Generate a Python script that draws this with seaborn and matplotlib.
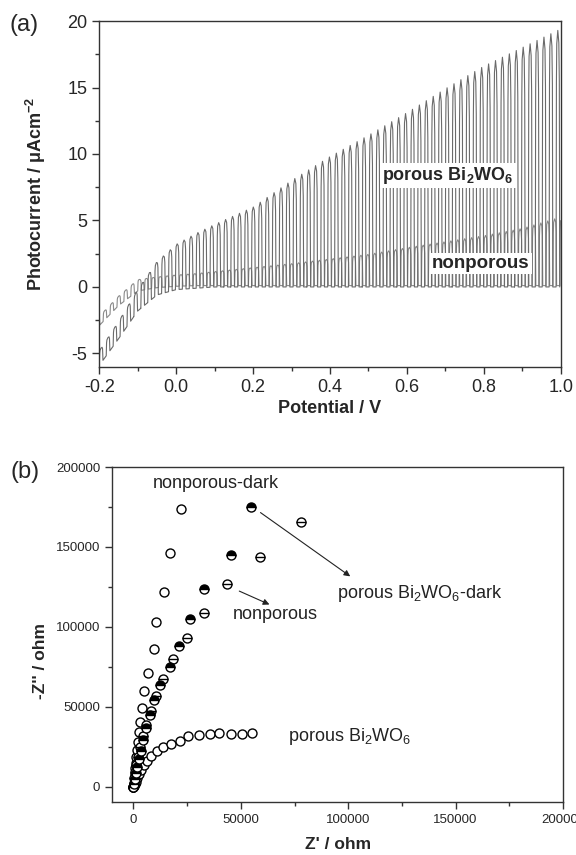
import numpy as np
import pandas as pd
import matplotlib
matplotlib.use("Agg")
import matplotlib.pyplot as plt
import seaborn as sns

# -------------------------
# (a) chopped-light photocurrent, envelopes
# -------------------------
pot_grid = [-0.2, -0.15, -0.1, -0.05, 0.0, 0.05, 0.1, 0.2, 0.3, 0.4, 0.5, 0.6, 0.7, 0.8, 0.9, 1.0]
porous_light = [-4.8, -2.6, -0.2, 1.9, 3.2, 4.0, 4.7, 6.0, 8.0, 9.8, 11.4, 13.1, 14.9, 16.6, 18.0, 19.4]
porous_dark = [-5.9, -3.9, -1.8, -0.6, -0.2, -0.1, 0.0, 0.0, 0.0, 0.0, 0.0, 0.0, 0.0, 0.0, 0.0, 0.0]
nonporous_light = [-2.2, -0.7, 0.55, 0.75, 0.9, 1.0, 1.15, 1.45, 1.75, 2.1, 2.45, 2.95, 3.4, 3.85, 4.4, 5.25]
nonporous_dark = [-2.9, -1.4, -0.3, -0.05, 0.05, 0.1, 0.1, 0.1, 0.1, 0.1, 0.1, 0.1, 0.1, 0.1, 0.1, 0.1]
chop_period = 0.018  # V per light on/off cycle
pulse_phase = [0.0, 0.05, 0.1, 0.25, 0.4, 0.47, 0.53, 1.0]
pulse_level = [0.0, 0.8, 0.95, 1.0, 0.95, 0.8, 0.0, 0.0]

# -------------------------
# (b) Nyquist plots
# -------------------------
np_dark_x = [0, 150, 300, 500, 700, 900, 1100, 1400, 1700, 2170, 2480, 2940, 4040, 4970, 7000, 9490, 10280, 14160, 16960, 22100]
np_dark_y = [0, 1200, 2500, 5200, 8300, 11500, 14600, 18800, 23100, 28330, 34580, 40830, 49170, 60000, 71460, 86060, 102800, 122100, 146000, 173750]

porous_x = [0, 200, 500, 1100, 1870, 2700, 3740, 4970, 6540, 8400, 11030, 13830, 17300, 21500, 25370, 30660, 35660, 40000, 45330, 50460, 55140]
porous_y = [0, 800, 1700, 3300, 5420, 8125, 10600, 13330, 15830, 18960, 22080, 24580, 26670, 28750, 31460, 32300, 33150, 33560, 33300, 32900, 33560]

np_light_x = [0, 200, 470, 900, 1400, 2180, 3270, 4670, 6070, 7940, 10420, 13850, 18230, 24770, 32850, 43460, 58700, 77900]
np_light_y = [0, 1500, 5200, 9400, 13500, 18750, 25200, 31460, 38750, 47500, 57080, 67500, 79790, 93330, 108960, 126900, 143900, 165800]

pd_dark_x = [0, 250, 600, 1100, 1700, 2500, 3300, 4400, 5750, 7620, 9640, 12290, 16960, 21030, 26300, 32850, 45330, 54670]
pd_dark_y = [0, 2000, 5000, 8500, 12500, 17500, 22500, 29000, 36700, 45000, 54375, 63750, 75200, 88125, 105000, 123750, 145000, 175200]

sns.set_style("ticks")
plt.rcParams["font.family"] = ["Liberation Sans", "DejaVu Sans"]
plt.rcParams["axes.unicode_minus"] = False
plt.rcParams["mathtext.fontset"] = "custom"
plt.rcParams["mathtext.rm"] = "Liberation Sans"
plt.rcParams["mathtext.bf"] = "Liberation Sans:bold"
plt.rcParams["mathtext.default"] = "regular"


def chopped(light, dark, phase0):
    # build the light on/off trace between the dark and light envelopes
    starts = np.arange(-0.2 - phase0 * chop_period, 1.0, chop_period)
    v = (starts[:, None] + np.array(pulse_phase)[None, :] * chop_period).ravel()
    lvl = np.tile(pulse_level, len(starts))
    keep = (v >= -0.2) & (v <= 1.0)
    v, lvl = v[keep], lvl[keep]
    lo = np.interp(v, pot_grid, dark)
    hi = np.interp(v, pot_grid, light)
    return pd.DataFrame({"V": v, "I": lo + lvl * (hi - lo)})


df_porous = chopped(porous_light, porous_dark, 0.0)
df_nonporous = chopped(nonporous_light, nonporous_dark, 0.45)

fig = plt.figure(figsize=(5.76, 8.55), dpi=100)
ax1 = fig.add_axes([0.1724, 0.5711, 0.801, 0.4043])
ax2 = fig.add_axes([0.1944, 0.0620, 0.783, 0.3918])

spine_c = "#333333"
for ax in (ax1, ax2):
    for s in ax.spines.values():
        s.set_color(spine_c)
        s.set_linewidth(1.0)
        s.set_visible(True)
    ax.tick_params(which="both", direction="out", color=spine_c, width=1.0,
                   top=False, right=False)
    ax.tick_params(which="major", length=5)
    ax.tick_params(which="minor", length=3)

sns.lineplot(data=df_nonporous, x="V", y="I", ax=ax1, sort=False, estimator=None,
             color="#8a8a8a", lw=0.8)
sns.lineplot(data=df_porous, x="V", y="I", ax=ax1, sort=False, estimator=None,
             color="#6a6a6a", lw=0.8)
ax1.set_xlim(-0.2, 1.0)
ax1.set_ylim(-6, 20)
ax1.set_xticks(np.arange(-0.2, 1.01, 0.2))
ax1.set_xticklabels([f"{t:.1f}" for t in np.arange(-0.2, 1.01, 0.2)])
ax1.set_xticks(np.arange(-0.1, 1.0, 0.2), minor=True)
ax1.set_yticks([-5, 0, 5, 10, 15, 20])
ax1.set_yticks([-2.5, 2.5, 7.5, 12.5, 17.5], minor=True)
ax1.tick_params(labelsize=13)
ax1.set_xlabel("Potential / V", fontsize=13, fontweight="bold")
ax1.set_ylabel(r"Photocurrent / μAcm$^{\mathbf{-2}}$", fontsize=13, fontweight="bold")
ax1.xaxis.set_label_coords(0.5, -0.095)
ax1.yaxis.set_label_coords(-0.112, 0.5)
ax1.text(0.536, 8.4, r"porous Bi$_\mathbf{2}$WO$_\mathbf{6}$", fontsize=13, fontweight="bold",
         va="center", ha="left",
         bbox=dict(facecolor="white", edgecolor="none", pad=1.5))
ax1.text(0.665, 1.75, "nonporous", fontsize=13.5, fontweight="bold", va="center", ha="left",
         bbox=dict(facecolor="white", edgecolor="none", pad=1.5))

# Nyquist
mk = dict(s=42, facecolor="white", edgecolor="black", linewidth=1.0, marker="o", zorder=3)
sns.scatterplot(x=np_dark_x, y=np_dark_y, ax=ax2, **mk)
sns.scatterplot(x=porous_x, y=porous_y, ax=ax2, **mk)
sns.scatterplot(x=np_light_x, y=np_light_y, ax=ax2, **mk)
ax2.plot(np_light_x, np_light_y, ls="none", marker="_", ms=6.5, mew=1.0, color="black", zorder=4)
ax2.plot(pd_dark_x, pd_dark_y, ls="none", marker="o", ms=6.5, mew=1.0, fillstyle="top",
         markerfacecolor="black", markerfacecoloralt="white", markeredgecolor="black", zorder=4)

ax2.set_xlim(-10000, 200000)
ax2.set_ylim(-9500, 200000)
ax2.set_xticks([0, 50000, 100000, 150000, 200000])
ax2.set_xticks([25000, 75000, 125000, 175000], minor=True)
ax2.set_yticks([0, 50000, 100000, 150000, 200000])
ax2.set_yticks([25000, 75000, 125000, 175000], minor=True)
ax2.tick_params(labelsize=9.5)
ax2.set_xlabel("Z' / ohm", fontsize=12.5, fontweight="bold")
ax2.set_ylabel("-Z'' / ohm", fontsize=12.5, fontweight="bold")
ax2.xaxis.set_label_coords(0.501, -0.105)
ax2.yaxis.set_label_coords(-0.142, 0.42)

ann = dict(fontsize=13, va="center", ha="left", color="#222222")
ax2.text(9000, 189800, "nonporous-dark", **ann)
ax2.text(95000, 120600, r"porous Bi$_2$WO$_6$-dark", **ann)
ax2.text(46100, 107500, "nonporous", **ann)
ax2.text(71900, 31460, r"porous Bi$_2$WO$_6$", **ann)
arr = dict(arrowstyle="-|>", color="#222222", lw=0.8, mutation_scale=9)
ax2.annotate("", xy=(102000, 130600), xytext=(58100, 172500), arrowprops=arr)
ax2.annotate("", xy=(64500, 113300), xytext=(48100, 123100), arrowprops=arr)

fig.text(0.016, 0.971, "(a)", fontsize=17, va="center", ha="left")
fig.text(0.018, 0.448, "(b)", fontsize=17, va="center", ha="left")

fig.savefig("out.png", dpi=100)
